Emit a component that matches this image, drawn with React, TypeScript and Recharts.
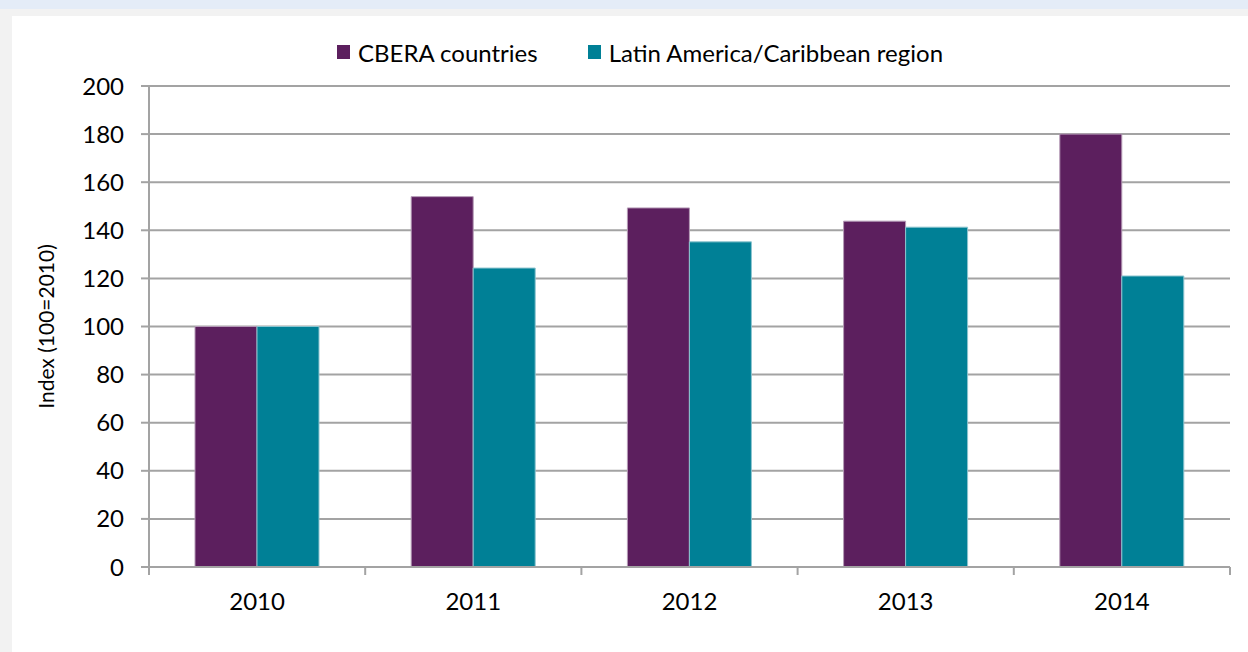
import React from 'react';
import { BarChart, Bar, XAxis, YAxis, CartesianGrid } from 'recharts';

const years = ['2010', '2011', '2012', '2013', '2014'];
const cbera = [100, 154, 149.3, 143.8, 180];
const latam = [100, 124.3, 135.2, 141.3, 121];
const yTicks = [0, 20, 40, 60, 80, 100, 120, 140, 160, 180, 200];

const data = years.map((year, i) => ({ year, cbera: cbera[i], latam: latam[i] }));

const PURPLE = '#5c1f5e';
const TEAL = '#008096';
const GRID = '#a3a3a3';
const FONT = 'Lato, "Open Sans", sans-serif';
const HALF_BAND = 108.1;

function YearTick(props: any) {
    const { x, y, payload, index } = props;
    return (
        <g>
            <line x1={x - HALF_BAND} x2={x - HALF_BAND} y1={y} y2={y + 8} stroke={GRID} strokeWidth={2} />
            {index === years.length - 1 && (
                <line x1={x + HALF_BAND} x2={x + HALF_BAND} y1={y} y2={y + 8} stroke={GRID} strokeWidth={2} />
            )}
            <text x={x} y={y + 43} textAnchor="middle" fontSize={24} fill="#000" fontFamily={FONT}>
                {payload.value}
            </text>
        </g>
    );
}

function LegendBox() {
    const items = [
        { label: 'CBERA countries', color: PURPLE },
        { label: 'Latin America/Caribbean region', color: TEAL },
    ];
    return (
        <div style={{ position: 'absolute', left: 337, top: 36, height: 32, display: 'flex', alignItems: 'center', gap: 50, fontFamily: FONT, fontSize: 24, color: '#000', whiteSpace: 'nowrap' }}>
            {items.map((it) => (
                <div key={it.label} style={{ display: 'flex', alignItems: 'center', gap: 8 }}>
                    <span style={{ display: 'inline-block', width: 13, height: 14, background: it.color }} />
                    <span>{it.label}</span>
                </div>
            ))}
        </div>
    );
}

export default function App() {
    return (
        <div style={{ position: 'absolute', left: 0, top: 0, width: 1248, height: 652, background: '#fff', overflow: 'hidden' }}>
            <div style={{ position: 'absolute', left: 0, top: 0, width: 1248, height: 9, background: '#e4ecf7' }} />
            <div style={{ position: 'absolute', left: 0, top: 9, width: 1248, height: 7, background: '#f2f2f2' }} />
            <div style={{ position: 'absolute', left: 0, top: 9, width: 12, height: 643, background: '#f2f2f2' }} />
            <div style={{ position: 'absolute', left: 0, top: 0 }}>
                <BarChart
                    width={1248}
                    height={652}
                    data={data}
                    margin={{ top: 86, right: 18, bottom: 45, left: 20 }}
                    barCategoryGap={46}
                    barGap={0}
                >
                    <CartesianGrid vertical={false} stroke={GRID} strokeWidth={2} />
                    <XAxis
                        dataKey="year"
                        height={40}
                        axisLine={{ stroke: GRID, strokeWidth: 2 }}
                        tickLine={false}
                        tickSize={0}
                        tickMargin={0}
                        tick={<YearTick />}
                        interval={0}
                    />
                    <YAxis
                        width={129}
                        domain={[0, 200]}
                        ticks={yTicks}
                        interval={0}
                        axisLine={{ stroke: GRID, strokeWidth: 2 }}
                        tickLine={{ stroke: GRID, strokeWidth: 2 }}
                        tickSize={8}
                        tickMargin={17}
                        tick={{ fill: '#000', fontSize: 24, fontFamily: FONT }}
                        label={{ value: 'Index (100=2010)', angle: -90, position: 'center', dx: -38, style: { fill: '#000', fontSize: 21, fontFamily: FONT } }}
                    />
                    <Bar dataKey="cbera" name="CBERA countries" fill={PURPLE} stroke="#b49ab6" strokeWidth={1} isAnimationActive={false} />
                    <Bar dataKey="latam" name="Latin America/Caribbean region" fill={TEAL} stroke="#8cc4cf" strokeWidth={1} isAnimationActive={false} />
                </BarChart>
            </div>
            <LegendBox />
        </div>
    );
}
